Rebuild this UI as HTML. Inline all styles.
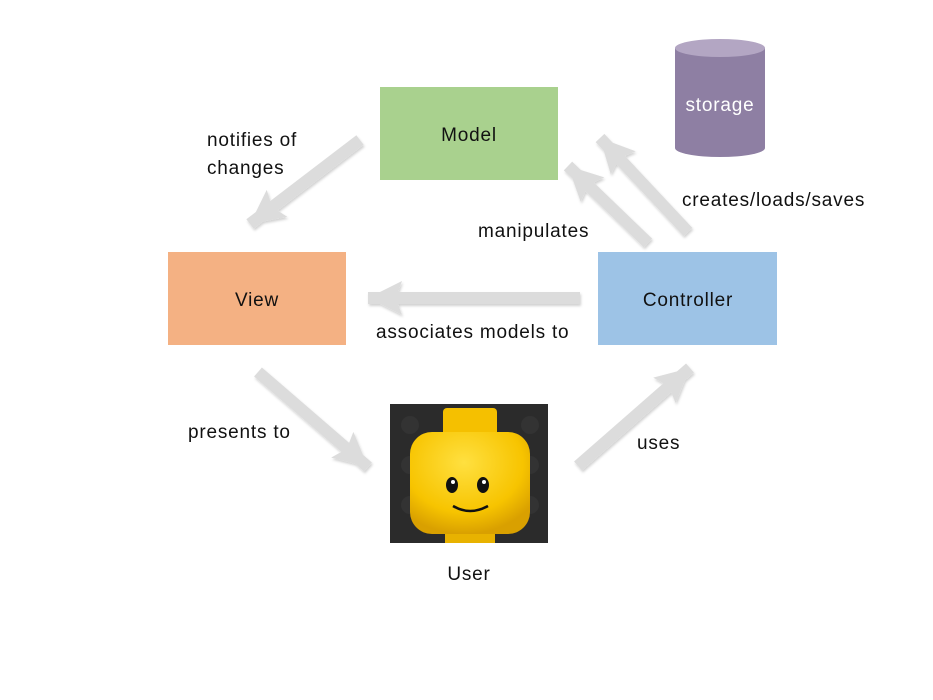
<!DOCTYPE html>
<html><head><meta charset="utf-8"><style>
html,body{margin:0;padding:0;background:#fff;}
svg{display:block;}
text{font-family:"Liberation Sans",sans-serif;font-size:19px;letter-spacing:0.8px;fill:#111;}
</style></head><body>
<svg width="933" height="700" viewBox="0 0 933 700" xmlns="http://www.w3.org/2000/svg">
<defs>
<marker id="ah" markerUnits="userSpaceOnUse" viewBox="0 0 36 36" markerWidth="36" markerHeight="36" refX="34" refY="18" orient="auto">
<path d="M0,1 L34,18 L0,35 L6,18 Z" fill="#dcdcdc"/>
</marker>
<filter id="sh" x="-20%" y="-20%" width="140%" height="140%"><feDropShadow dx="1" dy="2" stdDeviation="1.2" flood-color="#000" flood-opacity="0.18"/></filter>
<radialGradient id="yg" cx="45%" cy="30%" r="70%"><stop offset="0" stop-color="#ffe040"/><stop offset="0.7" stop-color="#f7c400"/><stop offset="1" stop-color="#d9a000"/></radialGradient>
</defs>
<g stroke="#dcdcdc" stroke-width="12" fill="none" marker-end="url(#ah)" filter="url(#sh)">
<line x1="360" y1="140" x2="250" y2="224"/>
<line x1="580" y1="298" x2="368" y2="298"/>
<line x1="258" y1="372" x2="368" y2="467"/>
<line x1="578" y1="466" x2="690" y2="368"/>
<line x1="648" y1="243" x2="568" y2="166"/>
<line x1="688" y1="232" x2="600" y2="138"/>
</g>
<rect x="380" y="87" width="178" height="93" fill="#a9d18e"/>
<text x="469" y="141" text-anchor="middle">Model</text>
<rect x="168" y="252" width="178" height="93" fill="#f4b183"/>
<text x="257" y="306" text-anchor="middle">View</text>
<rect x="598" y="252" width="179" height="93" fill="#9dc3e6"/>
<text x="688" y="306" text-anchor="middle">Controller</text>
<path d="M675,48 L675,148 A45,9 0 0 0 765,148 L765,48 Z" fill="#8e7fa3"/>
<ellipse cx="720" cy="48" rx="45" ry="9" fill="#b3a6c3"/>
<text x="720" y="111" text-anchor="middle" style="fill:#fff">storage</text>
<rect x="390" y="404" width="158" height="139" fill="#2b2b2b"/>
<g fill="#333">
<circle cx="410" cy="425" r="9"/><circle cx="530" cy="425" r="9"/><circle cx="410" cy="465" r="9"/><circle cx="530" cy="465" r="9"/><circle cx="410" cy="505" r="9"/><circle cx="530" cy="505" r="9"/>
</g>
<rect x="445" y="532" width="50" height="11" fill="#e8b200"/>
<rect x="443" y="408" width="54" height="30" rx="4" fill="#f5c000"/>
<rect x="410" y="432" width="120" height="102" rx="22" fill="url(#yg)"/>
<ellipse cx="452" cy="485" rx="6" ry="8" fill="#111"/><circle cx="453" cy="482" r="2" fill="#fff"/>
<ellipse cx="483" cy="485" rx="6" ry="8" fill="#111"/><circle cx="484" cy="482" r="2" fill="#fff"/>
<path d="M453,506 Q470,516 488,506" stroke="#111" stroke-width="2.5" fill="none"/>
<text x="207" y="146">notifies of</text>
<text x="207" y="174">changes</text>
<text x="478" y="237">manipulates</text>
<text x="682" y="206">creates/loads/saves</text>
<text x="376" y="338">associates models to</text>
<text x="188" y="438">presents to</text>
<text x="637" y="449">uses</text>
<text x="469" y="580" text-anchor="middle">User</text>
</svg>
</body></html>
